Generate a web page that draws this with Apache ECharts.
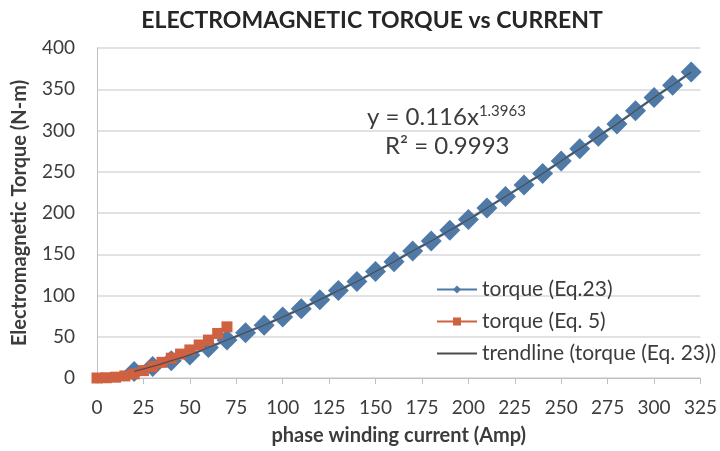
<!DOCTYPE html>
<html>
<head>
<meta charset="utf-8">
<script src="https://cdn.jsdelivr.net/npm/echarts@6/dist/echarts.min.js"></script>
<style>html,body{margin:0;padding:0;background:#fff}#c{width:720px;height:451px}</style>
</head>
<body>
<div id="c"></div>
<script>
// Data
const currentEq23 = [20,30,40,50,60,70,80,90,100,110,120,130,140,150,160,170,180,190,200,210,220,230,240,250,260,270,280,290,300,310,320];
const torqueEq23 = [8,14,21,28,37,46,55,64,74,84,95,106,117,129,141,154,166,179,192,206,220,234,248,263,278,293,308,324,340,355,371];
const currentEq5 = [0,5,10,15,20,25,30,35,40,45,50,55,60,65,70];
const torqueEq5 = [0,0.3,1,2.5,5,9,14,19,24,29,34,40,46,54,62];
const xTicks = {min:0, max:325, step:25};
const yTicks = {min:0, max:400, step:50};
const seriesNames = ['torque (Eq.23)', 'torque (Eq. 5)', 'trendline (torque (Eq. 23))'];
const titleText = 'ELECTROMAGNETIC TORQUE vs CURRENT';
const xName = 'phase winding current (Amp)';
const yName = 'Electromagnetic Torque (N-m)';
const eqText = ['y = 0.116x', '1.3963', 'R² = 0.9993'];

const pairs = (xs, ys) => xs.map((x, i) => [x, ys[i]]);
const font = 'Lato, "Open Sans", sans-serif';
const txt = '#3c3c3c';
const chart = echarts.init(document.getElementById('c'), null, {renderer: 'canvas'});
chart.setOption({
  animation: false,
  backgroundColor: '#fff',
  title: {
    text: titleText, left: 367, textAlign: 'center', top: 4,
    textStyle: {fontFamily: font, fontWeight: 'bold', fontSize: 23, color: '#262626'}
  },
  grid: {left: 97, right: 18, top: 48, bottom: 73},
  xAxis: {
    type: 'value', min: xTicks.min, max: xTicks.max, interval: xTicks.step,
    name: xName, nameLocation: 'middle', nameGap: 48,
    nameTextStyle: {fontFamily: font, fontWeight: 'bold', fontSize: 20, color: txt},
    axisLine: {show: true, lineStyle: {color: '#bfbfbf', width: 1}},
    axisTick: {show: true, inside: false, length: 6, lineStyle: {color: '#bfbfbf'}},
    axisLabel: {fontFamily: font, fontSize: 19, color: txt, margin: 20},
    splitLine: {show: false}
  },
  yAxis: {
    type: 'value', min: yTicks.min, max: yTicks.max, interval: yTicks.step,
    name: yName, nameLocation: 'middle', nameGap: 67, nameRotate: 90,
    nameTextStyle: {fontFamily: font, fontWeight: 'bold', fontSize: 20, color: txt},
    axisLine: {show: true, lineStyle: {color: '#bfbfbf', width: 1}},
    axisTick: {show: false},
    axisLabel: {fontFamily: font, fontSize: 19, color: txt, margin: 22},
    splitLine: {show: true, lineStyle: {color: '#d9d9d9', width: 1.5}}
  },
  legend: {
    orient: 'vertical', left: 431, top: 274, itemGap: 11,
    itemWidth: 40, itemHeight: 10,
    textStyle: {fontFamily: font, fontSize: 21, color: txt},
    data: [
      {name: seriesNames[0]},
      {name: seriesNames[1]},
      {name: seriesNames[2], itemStyle: {opacity: 0}}
    ]
  },
  series: [
    {
      name: seriesNames[0], type: 'line', data: pairs(currentEq23, torqueEq23),
      symbol: 'diamond', symbolSize: 21,
      lineStyle: {color: '#4f7aa8', width: 2.5},
      itemStyle: {color: '#4f7aa8'}, z: 2
    },
    {
      name: seriesNames[1], type: 'line', data: pairs(currentEq5, torqueEq5),
      symbol: 'rect', symbolSize: 11,
      lineStyle: {color: '#cf6140', width: 2.5},
      itemStyle: {color: '#cf6140'}, z: 3
    },
    {
      name: seriesNames[2], type: 'line', data: pairs(currentEq23, torqueEq23),
      symbol: 'none', smooth: true,
      lineStyle: {color: '#4d4d4d', width: 1.2},
      itemStyle: {color: '#6b6b6b'}, z: 4
    }
  ],
  graphic: [
    {
      type: 'text', left: 367, top: 104,
      style: {
        text: '{b|' + eqText[0] + '}{s|' + eqText[1] + '}',
        fill: txt,
        rich: {
          b: {fontFamily: font, fontSize: 24, fill: txt, color: txt},
          s: {fontFamily: font, fontSize: 15, fill: txt, color: txt, verticalAlign: 'top', padding: [0,0,12,0]}
        }
      }
    },
    {
      type: 'text', left: 385, top: 134,
      style: {text: eqText[2], fontFamily: font, fontSize: 24, fill: txt}
    }
  ]
});
</script>
</body>
</html>
